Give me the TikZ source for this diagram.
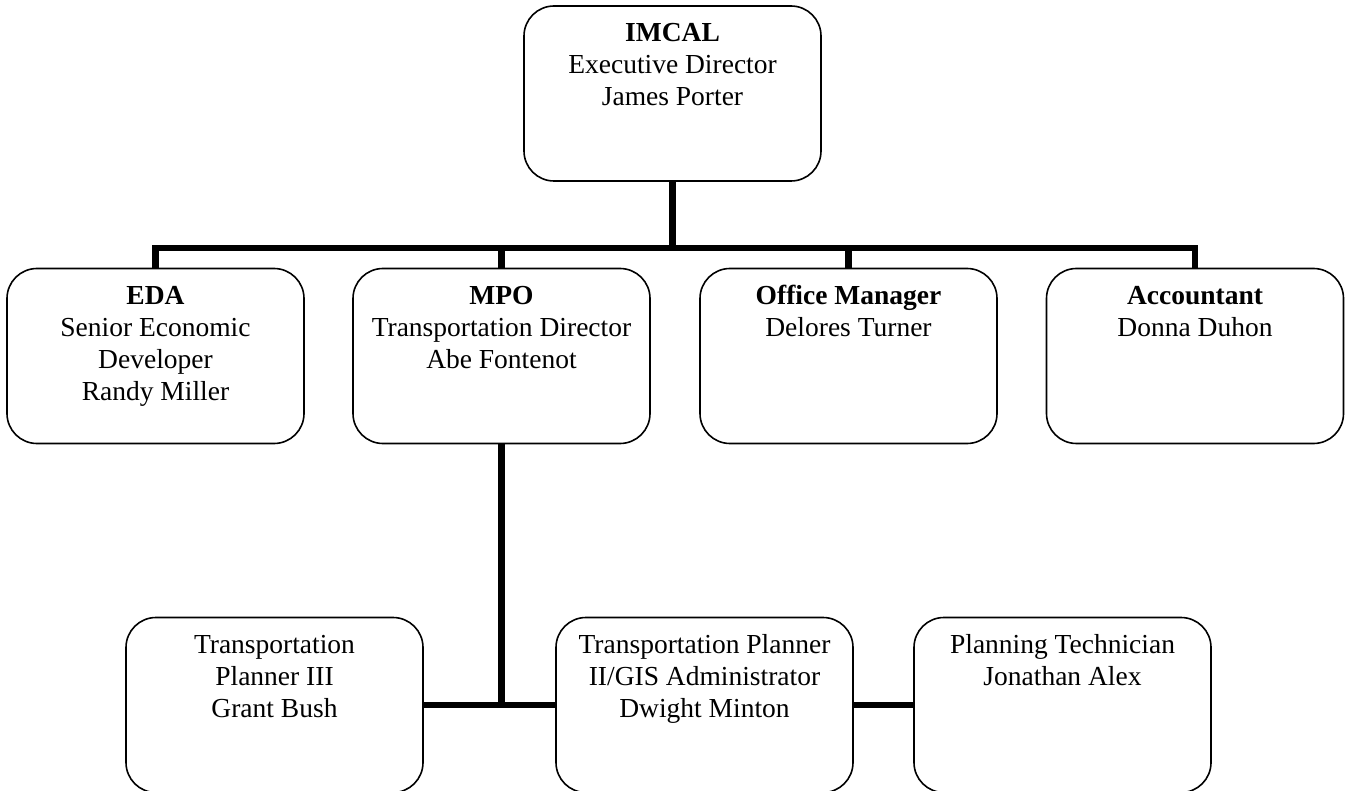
\documentclass[tikz,border=0pt]{standalone}
\usepackage{fontspec}
\setmainfont{Liberation Serif}
\newcommand{\orgtext}[1]{\begin{minipage}[t][175pt][t]{297pt}\centering\fontsize{27.5}{32}\selectfont\rule{0pt}{36pt}#1\end{minipage}}
\begin{document}
\begin{tikzpicture}[x=1pt,y=-1pt,
  orgbox/.style={draw=black, fill=white, line width=1.6pt, rounded corners=30pt,
    inner sep=0pt, minimum width=297pt, minimum height=175pt},
  conn/.style={draw=black, line width=6.8pt, line join=miter}]
\useasboundingbox (0,0) rectangle (1347,791);
% boxes
\node[orgbox] (top) at (672.5,93.5) {\orgtext{\textbf{IMCAL}\\Executive Director\\James Porter}};
\node[orgbox] (eda) at (155.5,356) {\orgtext{\textbf{EDA}\\Senior Economic\\Developer\\Randy Miller}};
\node[orgbox] (mpo) at (501.5,356) {\orgtext{\textbf{MPO}\\Transportation Director\\Abe Fontenot}};
\node[orgbox] (om) at (848.5,356) {\orgtext{\textbf{Office Manager}\\Delores Turner}};
\node[orgbox] (acc) at (1195,356) {\orgtext{\textbf{Accountant}\\Donna Duhon}};
\node[orgbox] (tp3) at (274.5,705) {\orgtext{Transportation\\Planner III\\Grant Bush}};
\node[orgbox] (tp2) at (704.5,705) {\orgtext{Transportation Planner\\II/GIS Administrator\\Dwight Minton}};
\node[orgbox] (pt) at (1062.5,705) {\orgtext{Planning Technician\\Jonathan Alex}};
% bus
\coordinate (bus) at (672.5,248);
\draw[conn] (eda.north) -- (eda.north |- bus) -- (acc.north |- bus) -- (acc.north);
\draw[conn] (top.south) -- (top.south |- bus);
\draw[conn] (mpo.north) -- (mpo.north |- bus);
\draw[conn] (om.north) -- (om.north |- bus);
% lower
\draw[conn] (mpo.south) -- (mpo.south |- tp3.east);
\draw[conn] (tp3.east) -- (tp2.west);
\draw[conn] (tp2.east) -- (pt.west);
\end{tikzpicture}
\end{document}
